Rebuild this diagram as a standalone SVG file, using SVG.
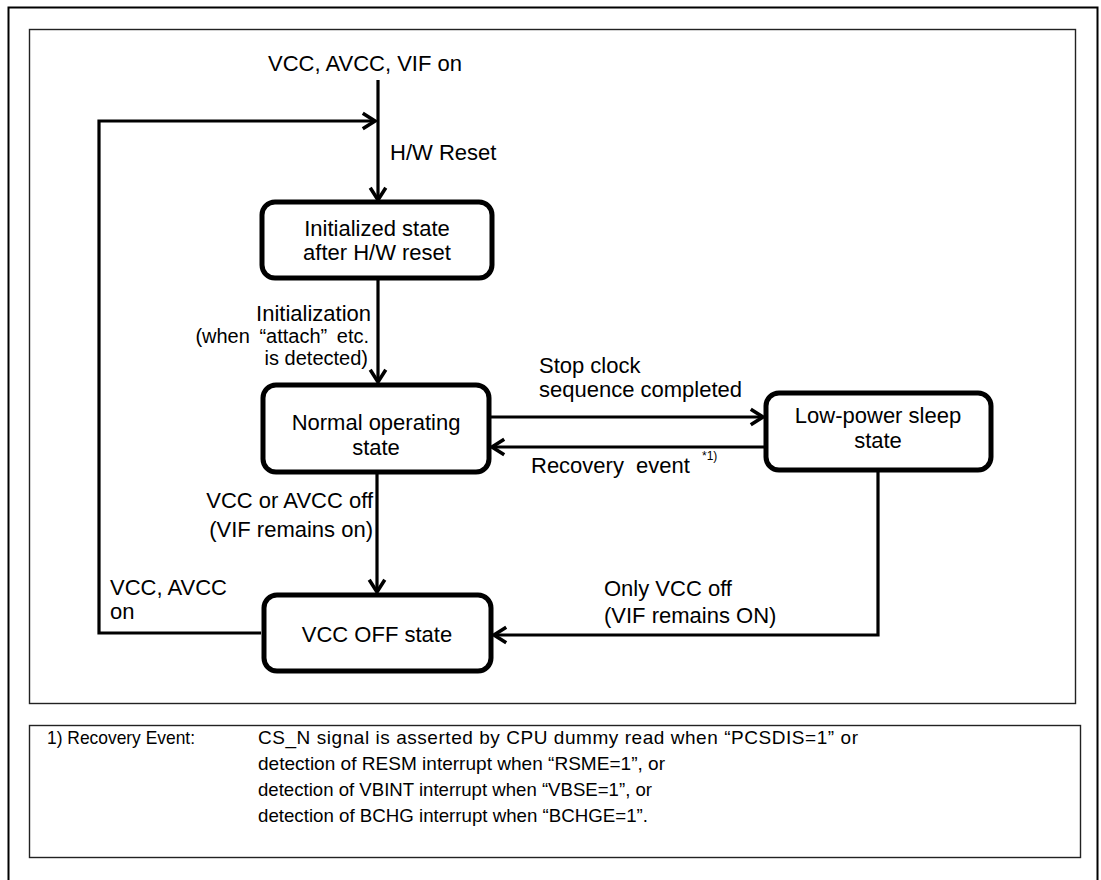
<svg xmlns="http://www.w3.org/2000/svg" width="1101" height="880" viewBox="0 0 1101 880">
<style>
text{font-family:"Liberation Sans",Arial,sans-serif;fill:#000}
.lbl{font-size:22px}
.sub{font-size:20px}
.fn{font-size:19px}
.box{fill:#fff;stroke:#000;stroke-width:5}
.con{fill:none;stroke:#000;stroke-width:3.2}
</style>
<defs>
<marker id="arr" markerUnits="userSpaceOnUse" markerWidth="20" markerHeight="20" viewBox="-14 -9 16 18" refX="0" refY="0" orient="auto">
<path d="M-11,-7 L0,0 L-11,7" fill="none" stroke="#000" stroke-width="3.2"/>
</marker>
</defs>
<rect width="1101" height="880" fill="#fff"/>
<rect x="8.5" y="7.5" width="1089" height="900" fill="none" stroke="#000" stroke-width="2"/>
<rect x="29.5" y="29.5" width="1046" height="674" fill="none" stroke="#222" stroke-width="1.4"/>

<g id="connectors">
<line class="con" x1="378" y1="80" x2="378" y2="200" marker-end="url(#arr)"/>
<polyline class="con" points="261,633 99,633 99,121 375,121" marker-end="url(#arr)"/>
<line class="con" x1="378" y1="278" x2="378" y2="382" marker-end="url(#arr)"/>
<line class="con" x1="489" y1="417" x2="763" y2="417" marker-end="url(#arr)"/>
<line class="con" x1="766" y1="447" x2="492" y2="447" marker-end="url(#arr)"/>
<line class="con" x1="377" y1="472" x2="377" y2="592" marker-end="url(#arr)"/>
<polyline class="con" points="878,470 878,635 494,635" marker-end="url(#arr)"/>
</g>

<g id="labels">
<text class="lbl" x="365" y="71" text-anchor="middle">VCC, AVCC, VIF on</text>
<text class="lbl" x="390" y="160">H/W Reset</text>
<text class="lbl" x="371" y="321" text-anchor="end">Initialization</text>
<text class="sub" x="369" y="343" text-anchor="end" word-spacing="4">(when “attach” etc.</text>
<text class="sub" x="368" y="365" text-anchor="end">is detected)</text>
<text class="lbl" x="539" y="373">Stop clock</text>
<text class="lbl" x="539" y="397">sequence completed</text>
<text class="lbl" x="531" y="473" word-spacing="6">Recovery event</text>
<text x="702" y="460" font-size="12">*1)</text>
<text class="lbl" x="373" y="508" text-anchor="end">VCC or AVCC off</text>
<text class="lbl" x="373" y="537" text-anchor="end">(VIF remains on)</text>
<text class="lbl" x="110" y="595">VCC, AVCC</text>
<text class="lbl" x="110" y="619">on</text>
<text class="lbl" x="604" y="596">Only VCC off</text>
<text class="lbl" x="604" y="623">(VIF remains ON)</text>
</g>

<g id="n-init">
<rect class="box" x="262" y="202" width="230" height="76" rx="13"/>
<text class="lbl" x="377" y="236" text-anchor="middle">Initialized state</text>
<text class="lbl" x="377" y="260" text-anchor="middle">after H/W reset</text>
</g>
<g id="n-normal">
<rect class="box" x="263" y="385" width="226" height="87" rx="13"/>
<text class="lbl" x="376" y="430" text-anchor="middle">Normal operating</text>
<text class="lbl" x="376" y="455" text-anchor="middle">state</text>
</g>
<g id="n-sleep">
<rect class="box" x="766" y="393" width="225" height="77" rx="13"/>
<text class="lbl" x="878" y="423" text-anchor="middle">Low-power sleep</text>
<text class="lbl" x="878" y="448" text-anchor="middle">state</text>
</g>
<g id="n-off">
<rect class="box" x="264" y="595" width="227" height="76" rx="13"/>
<text class="lbl" x="377" y="642" text-anchor="middle">VCC OFF state</text>
</g>

<g id="footnote">
<rect x="29.5" y="725.5" width="1051" height="132" fill="none" stroke="#222" stroke-width="1.4"/>
<text class="fn" x="47" y="744" textLength="148" lengthAdjust="spacingAndGlyphs">1) Recovery Event:</text>
<text class="fn" x="258" y="744" textLength="600" lengthAdjust="spacing">CS_N signal is asserted by CPU dummy read when “PCSDIS=1” or</text>
<text class="fn" x="258" y="770" textLength="407" lengthAdjust="spacingAndGlyphs">detection of RESM interrupt when “RSME=1”, or</text>
<text class="fn" x="258" y="796" textLength="394" lengthAdjust="spacingAndGlyphs">detection of VBINT interrupt when “VBSE=1”, or</text>
<text class="fn" x="258" y="822" textLength="390" lengthAdjust="spacingAndGlyphs">detection of BCHG interrupt when “BCHGE=1”.</text>
</g>
</svg>
